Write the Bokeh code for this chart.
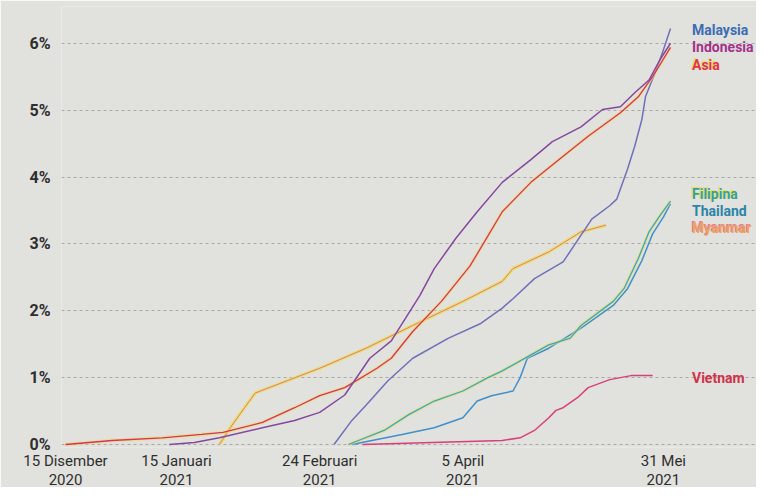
import pandas as pd
from bokeh.plotting import figure
from bokeh.models import Range1d, FixedTicker, Label, DatetimeAxis
from bokeh.embed import file_html
from bokeh.resources import INLINE

# ---- data (share of population, %) ----
asia_dates = ["2020-12-15", "2020-12-28", "2021-01-11", "2021-01-22", "2021-01-28", "2021-02-08",
              "2021-02-17", "2021-02-24", "2021-03-03", "2021-03-12", "2021-03-16", "2021-03-22",
              "2021-03-30", "2021-04-07", "2021-04-12", "2021-04-16", "2021-04-24", "2021-05-03",
              "2021-05-10", "2021-05-19", "2021-05-24", "2021-05-28", "2021-06-02"]
asia_vals = [0.00, 0.06, 0.10, 0.15, 0.18, 0.33, 0.55, 0.73, 0.85, 1.14, 1.29, 1.69,
             2.14, 2.67, 3.12, 3.48, 3.92, 4.31, 4.61, 4.96, 5.20, 5.50, 5.94]

indonesia_dates = ["2021-01-13", "2021-01-20", "2021-01-27", "2021-02-08", "2021-02-17", "2021-02-24",
                   "2021-03-03", "2021-03-10", "2021-03-16", "2021-03-24", "2021-03-28", "2021-04-03",
                   "2021-04-09", "2021-04-16", "2021-04-24", "2021-04-30", "2021-05-08", "2021-05-14",
                   "2021-05-19", "2021-05-23", "2021-05-27", "2021-05-30", "2021-06-02"]
indonesia_vals = [0.00, 0.03, 0.10, 0.25, 0.36, 0.48, 0.74, 1.29, 1.55, 2.23, 2.63, 3.08,
                  3.48, 3.92, 4.26, 4.53, 4.75, 5.01, 5.05, 5.26, 5.45, 5.75, 6.00]

malaysia_dates = ["2021-02-28", "2021-03-05", "2021-03-09", "2021-03-15", "2021-03-22", "2021-04-01",
                  "2021-04-10", "2021-04-16", "2021-04-19", "2021-04-25", "2021-05-03", "2021-05-06",
                  "2021-05-11", "2021-05-16", "2021-05-18", "2021-05-21", "2021-05-23", "2021-05-25",
                  "2021-05-26", "2021-05-29", "2021-05-31", "2021-06-02"]
malaysia_vals = [0.00, 0.36, 0.59, 0.95, 1.29, 1.59, 1.81, 2.04, 2.18, 2.48, 2.73, 2.97,
                 3.37, 3.57, 3.67, 4.12, 4.46, 4.86, 5.20, 5.60, 5.90, 6.22]

myanmar_dates = ["2021-01-27", "2021-01-30", "2021-02-03", "2021-02-06", "2021-02-24", "2021-03-09",
                 "2021-03-22", "2021-04-05", "2021-04-16", "2021-04-19", "2021-04-29", "2021-05-08",
                 "2021-05-15"]
myanmar_vals = [0.00, 0.25, 0.55, 0.77, 1.14, 1.44, 1.78, 2.14, 2.44, 2.63, 2.88, 3.18, 3.28]

filipina_dates = ["2021-03-04", "2021-03-14", "2021-03-21", "2021-03-28", "2021-04-05", "2021-04-12",
                  "2021-04-16", "2021-04-24", "2021-04-29", "2021-05-05", "2021-05-08", "2021-05-17",
                  "2021-05-20", "2021-05-24", "2021-05-27", "2021-05-30", "2021-06-02"]
filipina_vals = [0.00, 0.21, 0.45, 0.65, 0.80, 1.00, 1.10, 1.34, 1.49, 1.59, 1.78, 2.14,
                 2.33, 2.78, 3.18, 3.42, 3.64]

thailand_dates = ["2021-03-05", "2021-03-19", "2021-03-28", "2021-04-05", "2021-04-09", "2021-04-13",
                  "2021-04-19", "2021-04-21", "2021-04-23", "2021-04-29", "2021-05-08", "2021-05-17",
                  "2021-05-21", "2021-05-25", "2021-05-28", "2021-05-31", "2021-06-02"]
thailand_vals = [0.00, 0.15, 0.25, 0.40, 0.65, 0.73, 0.80, 1.00, 1.29, 1.44, 1.74, 2.08,
                 2.33, 2.75, 3.15, 3.40, 3.60]

vietnam_dates = ["2021-03-08", "2021-04-16", "2021-04-21", "2021-04-25", "2021-04-29", "2021-05-01",
                 "2021-05-03", "2021-05-07", "2021-05-10", "2021-05-16", "2021-05-22", "2021-05-28"]
vietnam_vals = [0.00, 0.06, 0.10, 0.21, 0.40, 0.51, 0.55, 0.70, 0.85, 0.97, 1.03, 1.03]

y_ticks = [0, 1, 2, 3, 4, 5, 6]
y_tick_labels = ["0%", "1%", "2%", "3%", "4%", "5%", "6%"]
x_tick_dates = ["2020-12-15", "2021-01-15", "2021-02-24", "2021-04-05", "2021-05-31"]
x_tick_day_labels = ["15 Disember", "15 Januari", "24 Februari", "5 April", "31 Mei"]
x_tick_year_labels = ["2020", "2021", "2021", "2021", "2021"]

series_names = ["Malaysia", "Indonesia", "Asia", "Filipina", "Thailand", "Myanmar", "Vietnam"]

# ---- styling ----
BG = "#e1e1dd"
FONT = "Roboto"
TXT = "#2e2e2e"
PX_PER_DAY = 3.58

x0 = pd.Timestamp("2020-12-15") - pd.Timedelta(days=4 / PX_PER_DAY)
x1 = x0 + pd.Timedelta(days=695 / PX_PER_DAY)

p = figure(width=756, height=487, x_axis_type="datetime",
           x_range=Range1d(x0, x1), y_range=Range1d(-0.045, 6.55),
           output_backend="svg", toolbar_location=None,
           min_border_left=61, min_border_right=0, min_border_top=6, min_border_bottom=40)
p.background_fill_color = BG
p.border_fill_color = BG
p.outline_line_color = None

p.xgrid.grid_line_color = None
p.ygrid.grid_line_color = "#a9a9a6"
p.ygrid.grid_line_dash = "3 3"
p.ygrid.grid_line_width = 1
p.ygrid.ticker = FixedTicker(ticks=y_ticks)

p.yaxis.ticker = FixedTicker(ticks=y_ticks)
p.yaxis.major_label_overrides = {t: l for t, l in zip(y_ticks, y_tick_labels)}
p.yaxis.axis_line_color = None
p.yaxis.major_tick_line_color = None
p.yaxis.minor_tick_line_color = None
p.yaxis.major_label_text_font = FONT
p.yaxis.major_label_text_font_style = "bold"
p.yaxis.major_label_text_font_size = "16px"
p.yaxis.major_label_text_color = TXT
p.yaxis.major_label_standoff = 5

x_tick_ms = [int(pd.Timestamp(d).value // 10**6) for d in x_tick_dates]


def style_xaxis(ax, labels, standoff):
    ax.ticker = FixedTicker(ticks=x_tick_ms)
    ax.major_label_overrides = {t: l for t, l in zip(x_tick_ms, labels)}
    ax.axis_line_color = None
    ax.major_tick_line_color = None
    ax.minor_tick_line_color = None
    ax.major_tick_in = 0
    ax.major_tick_out = 0
    ax.minor_tick_in = 0
    ax.minor_tick_out = 0
    ax.major_label_text_font = FONT
    ax.major_label_text_font_size = "15px"
    ax.major_label_text_color = TXT
    ax.major_label_standoff = standoff


style_xaxis(p.xaxis[0], x_tick_day_labels, 4)
year_axis = DatetimeAxis()
style_xaxis(year_axis, x_tick_year_labels, 1)
p.add_layout(year_axis, "below")


def draw(dates, vals, color, halo=None, width=1.5, halo_alpha=0.6):
    xs = pd.to_datetime(dates)
    if halo is not None:
        p.line(xs, vals, line_color=halo, line_width=3.4, line_alpha=halo_alpha)
    p.line(xs, vals, line_color=color, line_width=width)


YELLOW = "#ece04e"
draw(myanmar_dates, myanmar_vals, "#e07898", halo=YELLOW, width=1.0, halo_alpha=0.85)
draw(vietnam_dates, vietnam_vals, "#d8407a")
draw(thailand_dates, thailand_vals, "#3f90cc")
draw(filipina_dates, filipina_vals, "#3aa6c8", halo=YELLOW, width=1.3, halo_alpha=0.55)
draw(malaysia_dates, malaysia_vals, "#6e70ba")
draw(asia_dates, asia_vals, "#d9306a", halo=YELLOW, width=1.3, halo_alpha=0.55)
draw(indonesia_dates, indonesia_vals, "#86489e")

# ---- end labels ----
label_x = pd.Timestamp("2021-06-08")
label_y = [6.20, 5.94, 5.68, 3.74, 3.49, 3.24, 1.00]
label_colors = ["#3b6cb4", "#a3318a", "#e0334f", "#36a09c", "#2b84aa", "#eba45e", "#d0324a"]
label_shadow = [None, None, YELLOW, YELLOW, None, "#e57aa0", None]

for name, yv, col, sh in zip(series_names, label_y, label_colors, label_shadow):
    if sh is not None:
        p.add_layout(Label(x=label_x, y=yv, text=name, text_color=sh, text_font=FONT,
                           text_font_style="bold", text_font_size="14px",
                           text_baseline="middle", x_offset=-1, y_offset=1))
    p.add_layout(Label(x=label_x, y=yv, text=name, text_color=col, text_font=FONT,
                       text_font_style="bold", text_font_size="14px",
                       text_baseline="middle"))

open("out.html", "w").write(file_html(p, INLINE))
